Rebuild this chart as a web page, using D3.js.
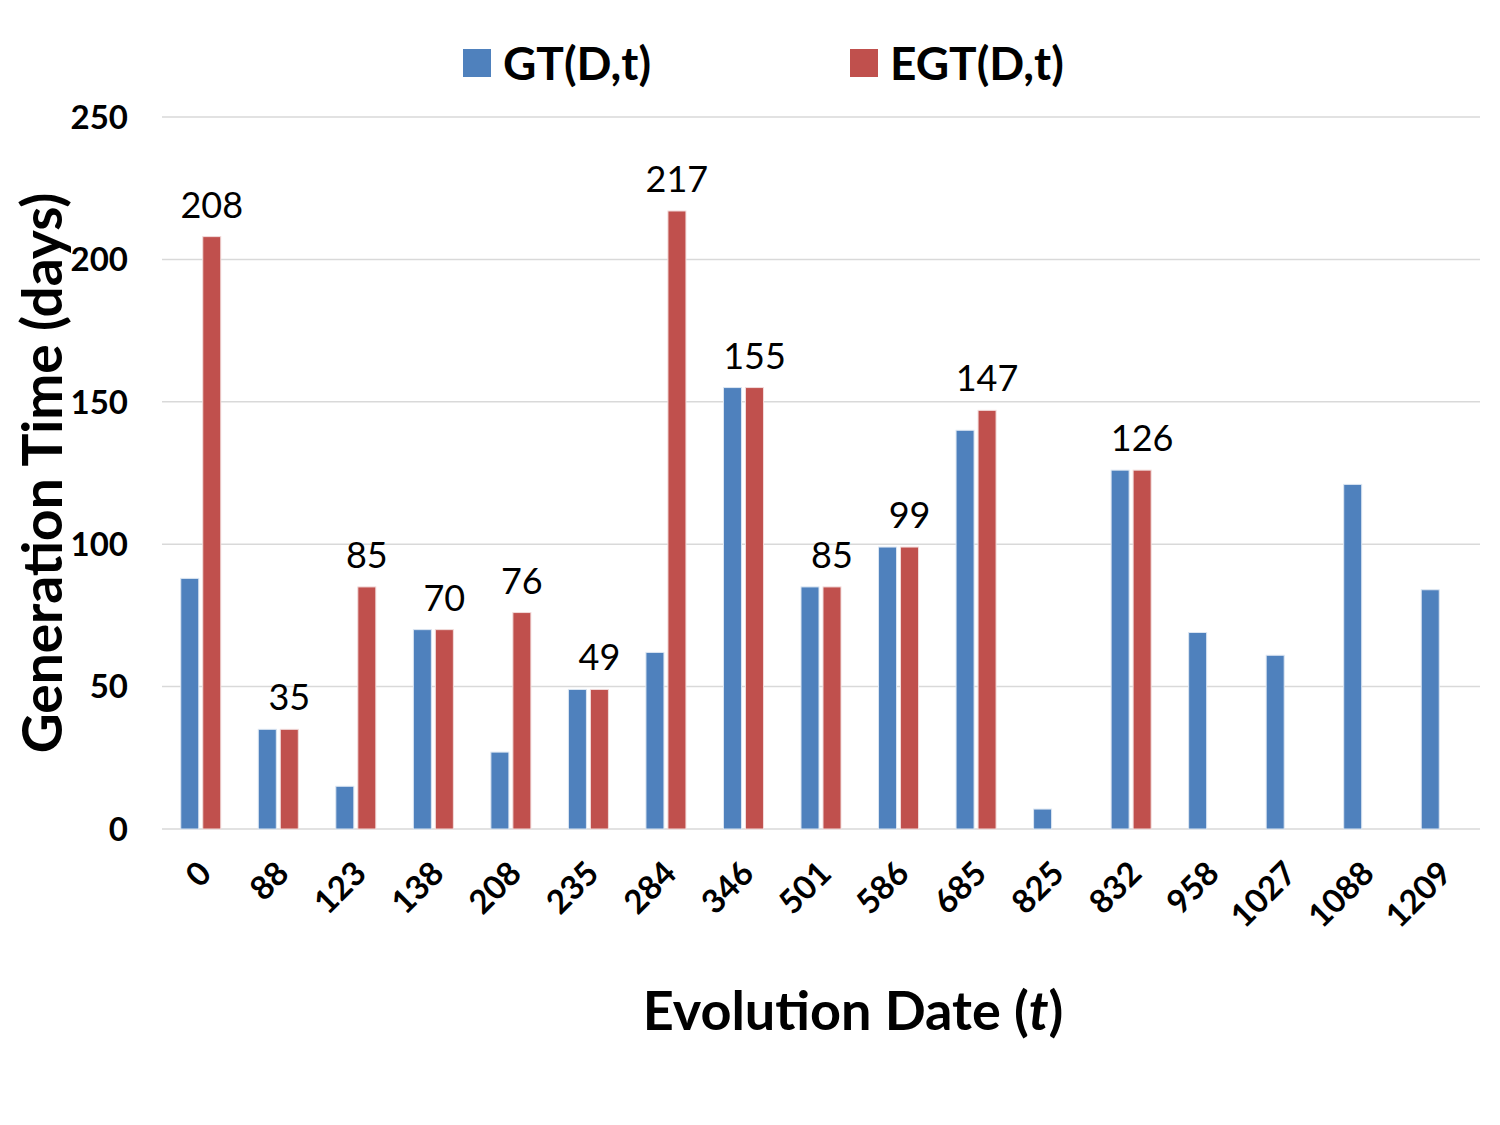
<!DOCTYPE html>
<html>
<head>
<meta charset="utf-8">
<script src="https://cdn.jsdelivr.net/npm/d3@7"></script>
<style>
  body { margin: 0; background: #fff; }
  svg { font-family: Lato, "Open Sans", sans-serif; }
</style>
</head>
<body>
<div id="chart"></div>
<script>
// data
const dates = ["0", "88", "123", "138", "208", "235", "284", "346", "501", "586",
               "685", "825", "832", "958", "1027", "1088", "1209"];
const gtValues = [88, 35, 15, 70, 27, 49, 62, 155, 85, 99, 140, 7, 126, 69, 61, 121, 84];
const egtValues = [208, 35, 85, 70, 76, 49, 217, 155, 85, 99, 147, null, 126, null, null, null, null];
const yTicks = [0, 50, 100, 150, 200, 250];
const seriesNames = ["GT(D,t)", "EGT(D,t)"];
const seriesColors = ["#4f81bd", "#c0504d"];

const width = 1500, height = 1125;
const margin = {top: 117, right: 20, bottom: 296, left: 162};

const svg = d3.select("#chart")
  .append("svg")
  .attr("width", width)
  .attr("height", height);

const x = d3.scaleBand()
  .domain(dates)
  .range([margin.left, width - margin.right])
  .padding(0);

const y = d3.scaleLinear()
  .domain([0, 250])
  .range([height - margin.bottom, margin.top]);

// gridlines
svg.append("g")
  .selectAll("line")
  .data(yTicks)
  .join("line")
  .attr("x1", margin.left)
  .attr("x2", width - margin.right)
  .attr("y1", d => y(d))
  .attr("y2", d => y(d))
  .attr("stroke", "#d9d9d9")
  .attr("stroke-width", 1.5);

// y tick labels
svg.append("g")
  .selectAll("text")
  .data(yTicks)
  .join("text")
  .attr("x", 128)
  .attr("y", d => y(d))
  .attr("dy", "0.36em")
  .attr("text-anchor", "end")
  .style("font-size", "33px")
  .style("font-weight", "bold")
  .text(d => d);

// bars
const barW = 18, gap = 2;
const rows = dates.map((d, i) => ({date: d, gt: gtValues[i], egt: egtValues[i]}));

svg.append("g")
  .selectAll("rect")
  .data(rows)
  .join("rect")
  .attr("x", d => x(d.date) + x.bandwidth() / 2 - gap - barW)
  .attr("width", barW)
  .attr("y", d => y(d.gt))
  .attr("height", d => y(0) - y(d.gt))
  .attr("fill", seriesColors[0])
  .attr("stroke", "#dce6f2")
  .attr("stroke-width", 1);

svg.append("g")
  .selectAll("rect")
  .data(rows.filter(d => d.egt != null))
  .join("rect")
  .attr("x", d => x(d.date) + x.bandwidth() / 2 + gap)
  .attr("width", barW)
  .attr("y", d => y(d.egt))
  .attr("height", d => y(0) - y(d.egt))
  .attr("fill", seriesColors[1])
  .attr("stroke", "#f2dcdb")
  .attr("stroke-width", 1);

// value labels above the EGT bars
svg.append("g")
  .selectAll("text")
  .data(rows.filter(d => d.egt != null))
  .join("text")
  .attr("x", d => x(d.date) + x.bandwidth() / 2 + gap + barW / 2)
  .attr("y", d => y(d.egt) - 19)
  .attr("text-anchor", "middle")
  .style("font-size", "36px")
  .text(d => d.egt);

// x tick labels
svg.append("g")
  .selectAll("text")
  .data(dates)
  .join("text")
  .attr("transform", d => `translate(${x(d) + x.bandwidth() / 2 + 4}, ${y(0) + 38}) rotate(-45)`)
  .attr("text-anchor", "end")
  .attr("dy", "0.36em")
  .style("font-size", "33px")
  .style("font-weight", "bold")
  .text(d => d);

// axis titles
const xTitle = svg.append("text")
  .attr("x", 853)
  .attr("y", 1030)
  .attr("text-anchor", "middle")
  .style("font-size", "54px")
  .style("font-weight", "bold");
xTitle.append("tspan").text("Evolution Date (");
xTitle.append("tspan").style("font-style", "italic").text("t");
xTitle.append("tspan").text(")");

svg.append("text")
  .attr("transform", "translate(62, 473) rotate(-90)")
  .attr("text-anchor", "middle")
  .style("font-size", "55px")
  .style("font-weight", "bold")
  .text("Generation Time (days)");

// legend
const legendX = [463, 850];
const legend = svg.selectAll(".legend")
  .data(seriesNames)
  .join("g")
  .attr("class", "legend")
  .attr("transform", (d, i) => `translate(${legendX[i]}, 49)`);

legend.append("rect")
  .attr("width", 28)
  .attr("height", 28)
  .attr("fill", (d, i) => seriesColors[i]);

legend.append("text")
  .attr("x", 40)
  .attr("y", 14)
  .attr("dy", "0.36em")
  .style("font-size", "46px")
  .style("font-weight", "bold")
  .text(d => d);
</script>
</body>
</html>
